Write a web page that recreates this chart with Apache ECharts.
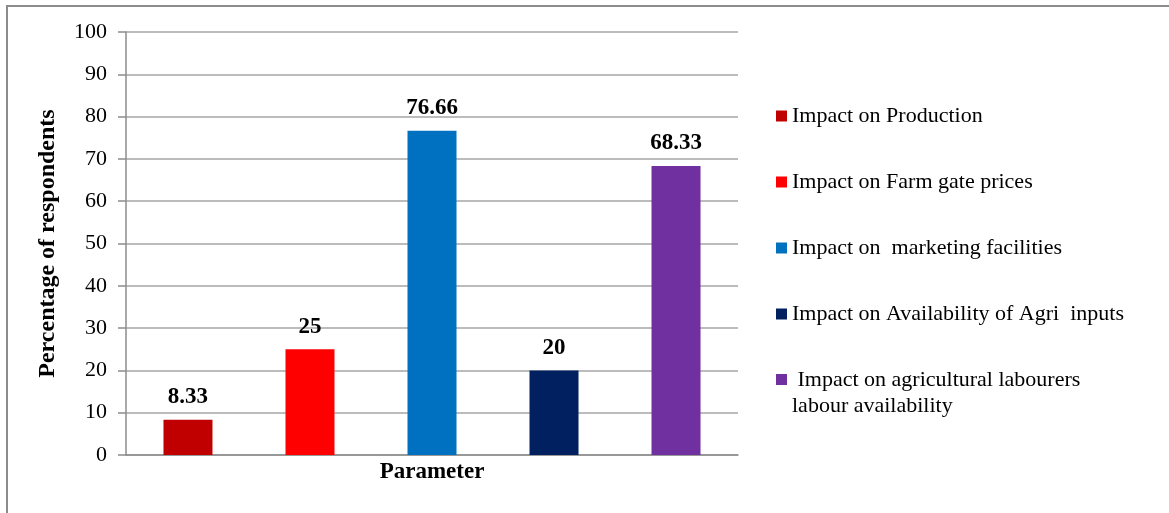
<!DOCTYPE html>
<html>
<head>
<meta charset="utf-8">
<script src="https://cdn.jsdelivr.net/npm/echarts@6/dist/echarts.min.js"></script>
<style>
html,body{margin:0;padding:0;background:#fff;}
#chart{width:1169px;height:513px;}
</style>
</head>
<body>
<div id="chart"></div>
<script>
const categories = ['Parameter'];
const seriesNames = [
  'Impact on Production',
  'Impact on Farm gate prices',
  'Impact on  marketing facilities',
  'Impact on Availability of Agri  inputs',
  ' Impact on agricultural labourers\nlabour availability'
];
const seriesValues = [8.33, 25, 76.66, 20, 68.33];
const seriesLabels = ['8.33', '25', '76.66', '20', '68.33'];
const seriesColors = ['#C00000', '#FF0000', '#0070C0', '#002060', '#7030A0'];
const yTicks = [0, 10, 20, 30, 40, 50, 60, 70, 80, 90, 100];

const FONT = 'Liberation Serif';
const chart = echarts.init(document.getElementById('chart'));

const series = seriesNames.map((name, i) => ({
  name: name,
  type: 'bar',
  data: [seriesValues[i]],
  barWidth: 49,
  barGap: '149%',
  itemStyle: { color: seriesColors[i] },
  label: {
    show: true,
    position: 'top',
    distance: 11,
    formatter: () => seriesLabels[i],
    fontFamily: FONT,
    fontWeight: 'bold',
    fontSize: 23,
    color: '#000'
  }
}));

// two-line legend entry: its square sits beside the first line, drawn separately
const legendData = seriesNames.map((name, i) => {
  if (name.indexOf('\n') >= 0) {
    return { name: name, icon: 'none' };
  }
  return { name: name };
});

chart.setOption({
  animation: false,
  backgroundColor: '#fff',
  graphic: [{
    type: 'rect',
    shape: { x: 7, y: 6, width: 1300, height: 700 },
    style: { fill: 'none', stroke: '#8c8c8c', lineWidth: 2 },
    silent: true
  }, {
    type: 'rect',
    shape: { x: 776, y: 374, width: 11, height: 11 },
    style: { fill: seriesColors[4] },
    silent: true
  }],
  grid: { left: 126, right: 431, top: 32, bottom: 58 },
  legend: {
    orient: 'vertical',
    left: 776,
    top: 103,
    padding: 0,
    itemGap: 40,
    itemWidth: 11,
    itemHeight: 11,
    icon: 'rect',
    data: legendData,
    textStyle: { fontFamily: FONT, fontSize: 22, color: '#000', lineHeight: 26 }
  },
  xAxis: {
    type: 'category',
    data: categories,
    axisLine: { lineStyle: { color: '#8c8c8c', width: 1.5 } },
    axisTick: { show: false },
    axisLabel: { fontFamily: FONT, fontWeight: 'bold', fontSize: 23, color: '#000', margin: 6 }
  },
  yAxis: {
    type: 'value',
    min: 0,
    max: 100,
    interval: 10,
    name: 'Percentage of respondents',
    nameLocation: 'middle',
    nameGap: 66,
    nameTextStyle: { fontFamily: FONT, fontWeight: 'bold', fontSize: 24, color: '#000' },
    axisLine: { show: true, lineStyle: { color: '#8c8c8c', width: 1.5 } },
    axisTick: { show: true, length: 8, lineStyle: { color: '#8c8c8c', width: 1.5 } },
    axisLabel: {
      fontFamily: FONT, fontSize: 22, color: '#000', margin: 19,
      formatter: v => (yTicks.indexOf(v) >= 0 ? String(v) : '')
    },
    splitLine: { lineStyle: { color: '#a6a6a6', width: 1.5 } }
  },
  series: series
});
</script>
</body>
</html>
